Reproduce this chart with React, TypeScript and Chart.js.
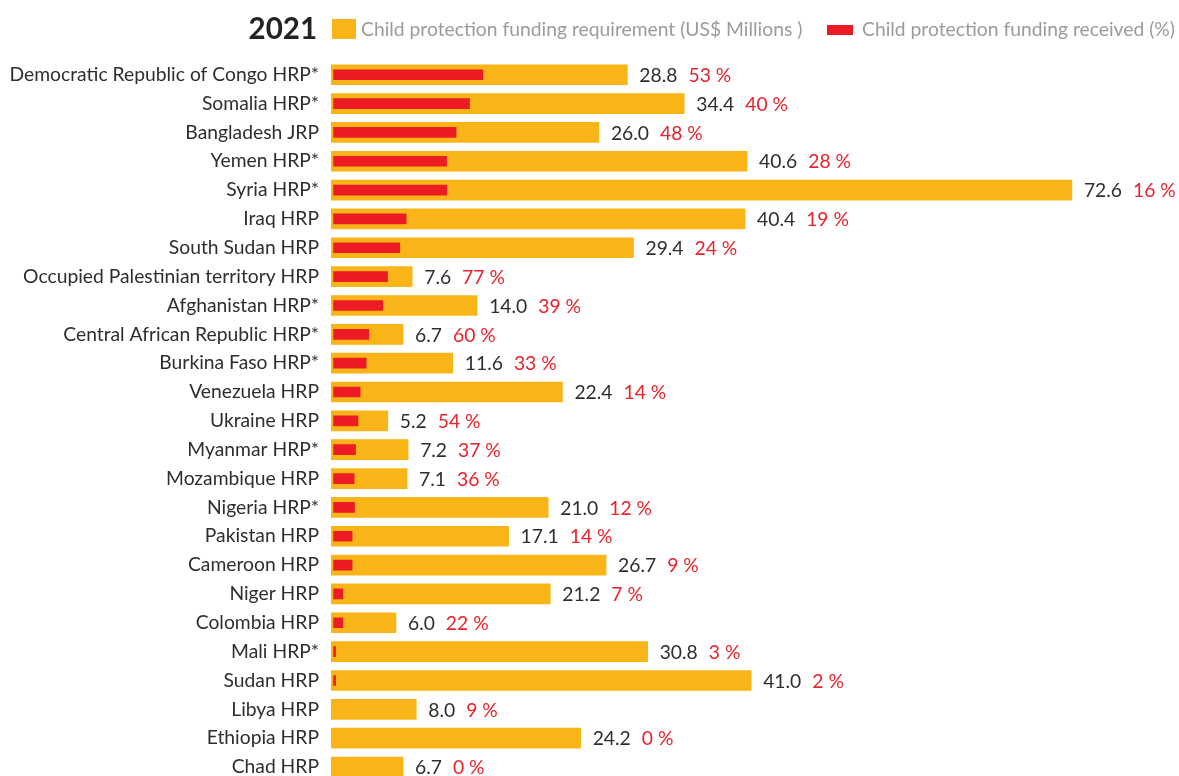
import React, { useEffect, useRef } from "react";
import { Chart, registerables } from "chart.js";

Chart.register(...registerables);

const YEAR = "2021";
const LEGEND_REQ = "Child protection funding requirement (US$ Millions )";
const LEGEND_REC = "Child protection funding received (%)";

const categories = [
  "Democratic Republic of Congo HRP*",
  "Somalia HRP*",
  "Bangladesh JRP",
  "Yemen HRP*",
  "Syria HRP*",
  "Iraq HRP",
  "South Sudan HRP",
  "Occupied Palestinian territory HRP",
  "Afghanistan HRP*",
  "Central African Republic HRP*",
  "Burkina Faso HRP*",
  "Venezuela HRP",
  "Ukraine HRP",
  "Myanmar HRP*",
  "Mozambique HRP",
  "Nigeria HRP*",
  "Pakistan HRP",
  "Cameroon HRP",
  "Niger HRP",
  "Colombia HRP",
  "Mali HRP*",
  "Sudan HRP",
  "Libya HRP",
  "Ethiopia HRP",
  "Chad HRP",
];

const requirement = [
  28.8, 34.4, 26.0, 40.6, 72.6, 40.4, 29.4, 7.6, 14.0, 6.7, 11.6, 22.4, 5.2,
  7.2, 7.1, 21.0, 17.1, 26.7, 21.2, 6.0, 30.8, 41.0, 8.0, 24.2, 6.7,
];

const receivedPct = [
  53, 40, 48, 28, 16, 19, 24, 77, 39, 60, 33, 14, 54, 37, 36, 12, 14, 9, 7, 22,
  3, 2, 9, 0, 0,
];

// red bar lengths (US$ millions)
const receivedBar: (number | null)[] = [
  14.56, 13.25, 11.93, 10.99, 11.01, 7.0, 6.38, 5.17, 4.71, 3.33, 3.06, 2.47,
  2.25, 2.02, 1.88, 1.92, 1.68, 1.68, 0.77, 0.77, 0.05, 0.05, null, null, null,
];

const ORANGE = "#F9B418";
const RED = "#ED1C24";
const RED_TEXT = "#E8232B";
const LABEL = "#2e2e2e";
const GRAY = "#9b9b9b";
const FONT = "Lato, 'Open Sans', sans-serif";
const FS = 19.3;

const W = 1179;
const VIEW_H = 776;
const H = 805;

const overlayPlugin = {
  id: "overlay",
  afterDatasetsDraw(chart: any) {
    const ctx = chart.ctx as CanvasRenderingContext2D;
    const meta = chart.getDatasetMeta(1);
    ctx.save();
    ctx.textBaseline = "middle";
    ctx.textAlign = "left";
    meta.data.forEach((bar: any, i: number) => {
      const x = bar.x + 12;
      const y = bar.y + 1;
      ctx.font = `${FS}px ${FONT}`;
      ctx.fillStyle = LABEL;
      const num = requirement[i].toFixed(1);
      ctx.fillText(num, x, y);
      const w = ctx.measureText(num).width;
      ctx.fillStyle = RED_TEXT;
      ctx.fillText(`${receivedPct[i]} %`, x + w + 11, y);
    });
    ctx.restore();
  },
  afterDraw(chart: any) {
    const ctx = chart.ctx as CanvasRenderingContext2D;
    ctx.save();
    ctx.textBaseline = "middle";
    ctx.textAlign = "right";
    ctx.font = `bold 29.5px ${FONT}`;
    ctx.fillStyle = "#222222";
    ctx.fillText(YEAR, 317, 29);
    ctx.fillStyle = ORANGE;
    ctx.fillRect(332, 19, 24, 20);
    ctx.textAlign = "left";
    ctx.font = `${FS}px ${FONT}`;
    ctx.fillStyle = GRAY;
    ctx.fillText(LEGEND_REQ, 361, 30);
    ctx.fillStyle = RED;
    ctx.fillRect(827, 25, 26, 10);
    ctx.fillStyle = GRAY;
    ctx.fillText(LEGEND_REC, 862, 30);
    ctx.restore();
  },
};

export default function App() {
  const ref = useRef<HTMLCanvasElement | null>(null);

  useEffect(() => {
    if (!ref.current) return;
    const chart = new Chart(ref.current, {
      type: "bar",
      data: {
        labels: categories,
        datasets: [
          {
            label: LEGEND_REC,
            data: receivedBar,
            backgroundColor: RED,
            barThickness: 10,
            grouped: false,
            base: -0.15,
            order: 1,
          } as any,
          {
            label: LEGEND_REQ,
            data: requirement,
            backgroundColor: ORANGE,
            barThickness: 20,
            grouped: false,
            base: -0.4,
            order: 2,
          } as any,
        ],
      },
      options: {
        indexAxis: "y",
        responsive: false,
        animation: false,
        events: [],
        layout: { padding: { left: 0, right: 32, top: 60.3, bottom: 23.5 } },
        plugins: {
          legend: { display: false },
          tooltip: { enabled: false },
          title: { display: false },
        },
        scales: {
          x: {
            type: "linear",
            min: -0.4,
            max: 80,
            bounds: "data",
            display: false,
            grid: { display: false },
          },
          y: {
            type: "category",
            position: "left",
            offset: true,
            grid: { display: false, drawTicks: false },
            border: { display: false },
            ticks: {
              color: LABEL,
              padding: 12,
              autoSkip: false,
              font: { family: FONT, size: FS },
            },
            afterFit(scale: any) {
              scale.width = 331;
            },
          },
        },
      },
      plugins: [overlayPlugin],
    });
    return () => chart.destroy();
  }, []);

  return (
    <div
      style={{
        position: "fixed",
        left: 0,
        top: 0,
        width: W,
        height: VIEW_H,
        overflow: "hidden",
        background: "#ffffff",
      }}
    >
      <canvas ref={ref} width={W} height={H} style={{ display: "block", width: W, height: H }} />
    </div>
  );
}
